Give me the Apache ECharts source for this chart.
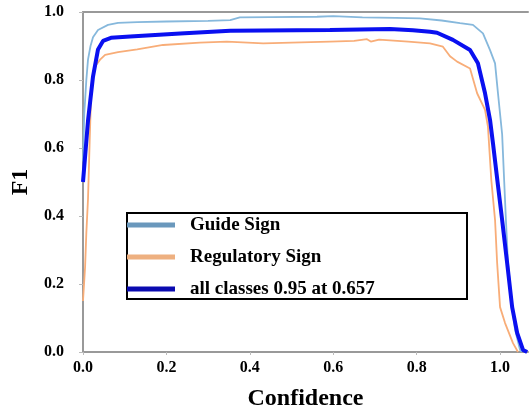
<!DOCTYPE html>
<html>
<head>
<meta charset="utf-8">
<script src="https://cdn.jsdelivr.net/npm/echarts@6/dist/echarts.min.js"></script>
<style>html,body{margin:0;padding:0;background:#fff}#c{width:529px;height:412px}</style>
</head>
<body>
<div id="c"></div>
<script>
const seriesNames = ['Guide Sign', 'Regulatory Sign', 'all classes 0.95 at 0.657'];
const xTicks = [0, 0.2, 0.4, 0.6, 0.8, 1.0];
const yTicks = [0, 0.2, 0.4, 0.6, 0.8, 1.0];

const guideX = [0, 0.003, 0.008, 0.012, 0.018, 0.024, 0.036, 0.06, 0.084, 0.13, 0.2, 0.3, 0.353, 0.376, 0.45, 0.561, 0.6, 0.67, 0.75, 0.808, 0.86, 0.904, 0.935, 0.959, 0.976, 0.988, 0.995, 1.005, 1.01, 1.014, 1.019, 1.029, 1.036, 1.048, 1.052];
const guideY = [0.56, 0.7, 0.8, 0.86, 0.9, 0.926, 0.947, 0.962, 0.968, 0.97, 0.972, 0.974, 0.976, 0.984, 0.985, 0.986, 0.988, 0.984, 0.983, 0.981, 0.975, 0.967, 0.962, 0.937, 0.888, 0.849, 0.761, 0.64, 0.5, 0.39, 0.262, 0.132, 0.065, 0.006, 0];

const regX = [0, 0.005, 0.008, 0.012, 0.016, 0.02, 0.026, 0.032, 0.041, 0.053, 0.084, 0.13, 0.192, 0.28, 0.345, 0.432, 0.5, 0.592, 0.65, 0.681, 0.69, 0.71, 0.78, 0.832, 0.863, 0.88, 0.897, 0.928, 0.945, 0.964, 0.971, 0.976, 0.979, 0.988, 0.993, 1.0, 1.012, 1.031, 1.043];
const regY = [0.15, 0.25, 0.35, 0.45, 0.62, 0.78, 0.83, 0.845, 0.86, 0.874, 0.882, 0.89, 0.903, 0.91, 0.913, 0.908, 0.91, 0.913, 0.915, 0.92, 0.913, 0.919, 0.913, 0.908, 0.898, 0.87, 0.854, 0.834, 0.761, 0.712, 0.662, 0.565, 0.506, 0.388, 0.262, 0.132, 0.085, 0.026, 0];

const allX = [0, 0.012, 0.024, 0.036, 0.048, 0.067, 0.113, 0.233, 0.353, 0.592, 0.736, 0.791, 0.832, 0.849, 0.887, 0.928, 0.947, 0.964, 0.976, 0.983, 0.995, 1.005, 1.017, 1.029, 1.041, 1.055, 1.065];
const allY = [0.5, 0.68, 0.81, 0.89, 0.915, 0.924, 0.928, 0.937, 0.945, 0.947, 0.95, 0.946, 0.942, 0.939, 0.918, 0.888, 0.849, 0.761, 0.682, 0.614, 0.49, 0.388, 0.262, 0.132, 0.056, 0.006, 0];

const pairs = (xs, ys) => xs.map((x, i) => [x, ys[i]]);
const FONT = '"Liberation Serif", "Times New Roman", serif';

const chart = echarts.init(document.getElementById('c'), null, {renderer: 'canvas'});
chart.setOption({
  animation: false,
  backgroundColor: '#fff',
  grid: {left: 83, top: 12, right: 1, bottom: 60, containLabel: false, outerBoundsMode: 'none'},
  xAxis: [{
    type: 'value', min: 0, max: 1.067, interval: 0.2,
    name: 'Confidence', nameLocation: 'middle', nameGap: 35,
    nameTextStyle: {fontFamily: FONT, fontWeight: 'bold', fontSize: 24, color: '#000'},
    axisLine: {show: true, lineStyle: {color: '#999', width: 2}},
    axisTick: {show: true, length: 3, lineStyle: {color: '#bbb'}},
    axisLabel: {showMaxLabel: false, margin: 8, fontFamily: FONT, fontWeight: 'bold', fontSize: 16, color: '#000',
      formatter: v => xTicks.some(t => Math.abs(t - v) < 1e-6) ? v.toFixed(1) : ''},
    splitLine: {show: false}
  }, {
    type: 'value', position: 'top', min: 0, max: 1.067,
    axisLine: {show: true, onZero: false, lineStyle: {color: '#999', width: 2}},
    axisTick: {show: false}, axisLabel: {show: false}, splitLine: {show: false}
  }],
  yAxis: {
    type: 'value', min: 0, max: 1, interval: 0.2,
    name: 'F1', nameLocation: 'middle', nameGap: 50, nameRotate: 90,
    nameTextStyle: {fontFamily: FONT, fontWeight: 'bold', fontSize: 24, color: '#000'},
    axisLine: {show: true, lineStyle: {color: '#999', width: 2}},
    axisTick: {show: true, length: 4, lineStyle: {color: '#bbb'}},
    axisLabel: {margin: 19, fontFamily: FONT, fontWeight: 'bold', fontSize: 16, color: '#000',
      formatter: v => yTicks.some(t => Math.abs(t - v) < 1e-6) ? v.toFixed(1) : ''},
    splitLine: {show: false}
  },
  legend: {
    orient: 'vertical', left: 127, top: 214, padding: 0,
    itemWidth: 48, itemHeight: 5, itemGap: 10,
    textStyle: {fontFamily: FONT, fontWeight: 'bold', fontSize: 19, color: '#000', lineHeight: 22, padding: [0, 0, 0, 10]},
    data: [
      {name: seriesNames[0], icon: 'rect', itemStyle: {color: '#6a98bc'}},
      {name: seriesNames[1], icon: 'rect', itemStyle: {color: '#eeb080'}},
      {name: seriesNames[2], icon: 'rect', itemStyle: {color: '#0a0ab0'}}
    ],
    z: 5
  },
  graphic: [{
    type: 'rect', z: 3,
    shape: {x: 127, y: 213, width: 340, height: 86},
    style: {fill: '#fff', stroke: '#000', lineWidth: 2}
  }],
  series: [
    {name: seriesNames[0], type: 'line', data: pairs(guideX, guideY), showSymbol: false, symbol: 'none',
      lineStyle: {color: '#86b8dc', width: 1.8}, itemStyle: {color: '#86b8dc'}, z: 2},
    {name: seriesNames[1], type: 'line', data: pairs(regX, regY), showSymbol: false, symbol: 'none',
      lineStyle: {color: '#f8ad78', width: 1.8}, itemStyle: {color: '#f8ad78'}, z: 2},
    {name: seriesNames[2], type: 'line', data: pairs(allX, allY), showSymbol: false, symbol: 'none',
      lineStyle: {color: '#0a10f0', width: 4}, itemStyle: {color: '#0a10f0'}, z: 2}
  ]
});
</script>
</body>
</html>
